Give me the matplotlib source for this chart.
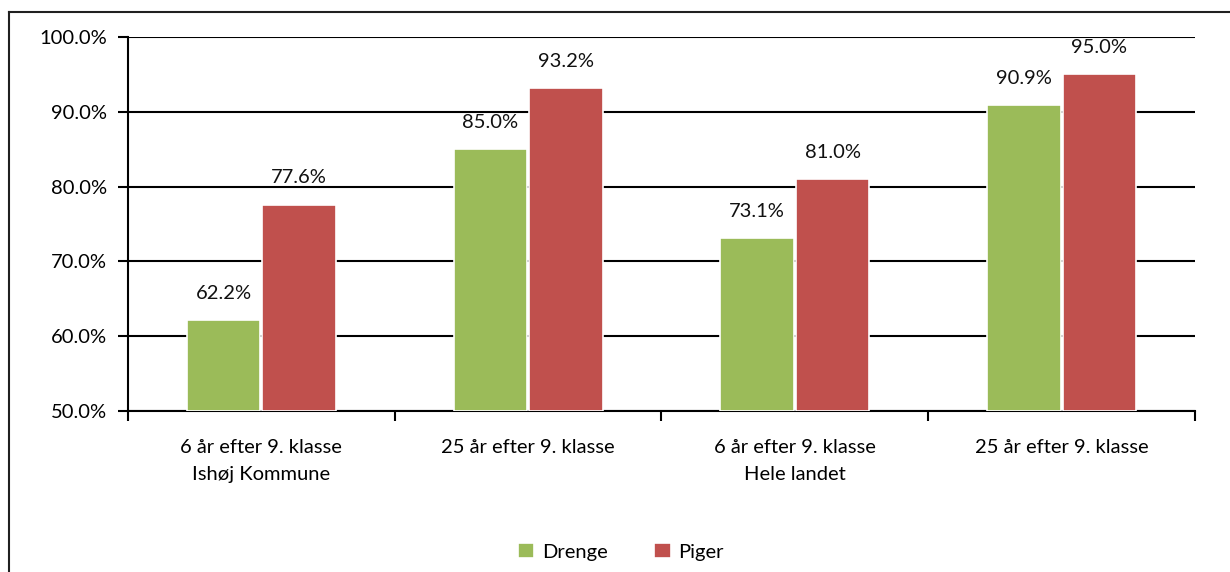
import numpy as np
import matplotlib.pyplot as plt
from matplotlib.lines import Line2D

categories = ['6 år efter 9. klasse\nIshøj Kommune', '25 år efter 9. klasse',
              '6 år efter 9. klasse\nHele landet', '25 år efter 9. klasse']
drenge = [62.2, 85.0, 73.1, 90.9]
piger = [77.6, 93.2, 81.0, 95.0]

GREEN = '#9BBB59'
RED = '#C0504D'
FS = 14.5

plt.rcParams['font.family'] = ['Lato', 'DejaVu Sans']

fig = plt.figure(figsize=(12.3, 5.72), dpi=100)
ax = fig.add_axes([0.1041, 0.2815, 0.8674, 0.6538])

# chart frame: top and left edges (the rest runs off the page)
fx, fy = 8.5 / 1230, 1 - 11.5 / 572
fig.add_artist(Line2D([fx, 1.0], [fy, fy], transform=fig.transFigure, color='#202020', lw=1.5))
fig.add_artist(Line2D([fx, fx], [0.0, fy], transform=fig.transFigure, color='#202020', lw=1.5))

x = np.arange(len(categories))
w = 0.275
b1 = ax.bar(x - w / 2 - 0.004, np.array(drenge) - 50, w, bottom=50, color=GREEN,
            edgecolor='white', linewidth=1.2, label='Drenge', zorder=3)
b2 = ax.bar(x + w / 2 + 0.004, np.array(piger) - 50, w, bottom=50, color=RED,
            edgecolor='white', linewidth=1.2, label='Piger', zorder=3)

for bars, vals in ((b1, drenge), (b2, piger)):
    for rect, v in zip(bars, vals):
        ax.annotate(f'{v:.1f}%', (rect.get_x() + rect.get_width() / 2, v),
                    xytext=(0, 13), textcoords='offset points', ha='center', va='bottom',
                    fontsize=FS, color='#111111')

ax.set_xlim(-0.5, len(categories) - 0.5)
ax.set_ylim(50, 100)
ax.set_yticks(np.arange(50, 101, 10))
ax.set_yticklabels([f'{t:.1f}%' for t in np.arange(50, 101, 10)], fontsize=FS)
ax.yaxis.grid(True, color='black', linewidth=1.5, zorder=1)
ax.set_axisbelow(True)

# category labels centred, ticks on the boundaries
ax.set_xticks(x)
ax.set_xticklabels(categories, fontsize=FS, linespacing=1.7)
ax.tick_params(axis='x', length=0, pad=20)
ax.set_xticks(np.arange(-0.5, len(categories)), minor=True)
ax.tick_params(axis='x', which='minor', length=7, width=1.5, direction='out')
ax.tick_params(axis='y', length=7, width=1.5, direction='out', pad=8)

for s in ('top', 'right'):
    ax.spines[s].set_visible(False)
for s in ('left', 'bottom'):
    ax.spines[s].set_linewidth(1.5)

fig.legend(handles=[b1, b2], loc='lower center', bbox_to_anchor=(0.505, -0.012), ncol=2,
           frameon=False, fontsize=FS, handlelength=0.8, handleheight=0.8,
           columnspacing=2.3, handletextpad=0.4)

fig.savefig('out.png', dpi=100)
